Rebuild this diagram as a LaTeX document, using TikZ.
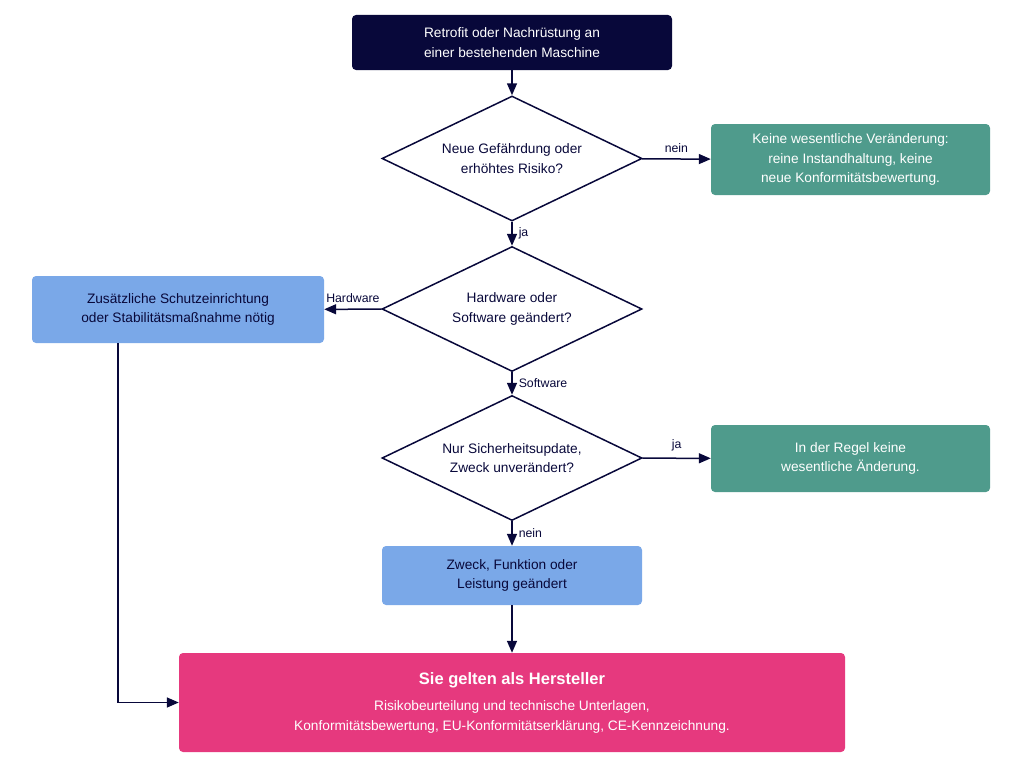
\documentclass[tikz,border=0pt]{standalone}
\usepackage{fontspec}
\setmainfont{Liberation Sans}
\usepackage{tikz}
\usetikzlibrary{positioning, arrows.meta, shapes.geometric, calc}
\usepackage{xcolor}

\definecolor{navy}{RGB}{8,8,58}
\definecolor{tealbox}{RGB}{79,155,140}
\definecolor{bluebox}{RGB}{122,168,232}
\definecolor{pinkbox}{RGB}{230,57,126}

\begin{document}
\begin{tikzpicture}[x=1pt, y=-1pt,
  font=\fontsize{13.7}{19.5}\selectfont,
  box/.style={rounded corners=4pt, align=center, inner sep=0pt},
  startbox/.style={box, fill=navy, text=white, minimum width=320pt, minimum height=55pt},
  greenbox/.style={box, fill=tealbox, text=white, minimum width=279pt},
  bluebox/.style={box, fill=bluebox, text=navy},
  decide/.style={diamond, draw=navy, line width=1.5pt, aspect=2.08, minimum width=260pt, minimum height=125pt, inner sep=0pt, align=center, text=navy},
  flow/.style={-{Triangle[length=12pt,width=10pt]}, draw=navy, line width=1.5pt},
  lbl/.style={text=navy, inner sep=6pt, font=\fontsize{12.3}{14}\selectfont}]
\useasboundingbox (0,0) rectangle (1024,768);
\node[startbox] (start) at (512,42.5) {Retrofit oder Nachrüstung an\\einer bestehenden Maschine};
\node[decide] (risk) at (512,158.5) {Neue Gefährdung oder\\erhöhtes Risiko?};
\node[greenbox, minimum height=71pt] (none) at (850.5,159.5) {Keine wesentliche Veränderung:\\reine Instandhaltung, keine\\neue Konformitätsbewertung.};
\node[decide] (hwsw) at (512,309) {Hardware oder\\Software geändert?};
\node[bluebox, minimum width=292pt, minimum height=67pt] (guard) at (178,309.5) {Zusätzliche Schutzeinrichtung\\oder Stabilitätsmaßnahme nötig};
\node[decide] (upd) at (512,458) {Nur Sicherheitsupdate,\\Zweck unverändert?};
\node[greenbox, minimum height=67pt] (rule) at (850.5,458.5) {In der Regel keine\\wesentliche Änderung.};
\node[bluebox, minimum width=260pt, minimum height=59pt] (purpose) at (512,575.5) {Zweck, Funktion oder\\Leistung geändert};
\node[box, fill=pinkbox, text=white, minimum width=666pt, minimum height=99pt] (maker) at (512,702.5) {{\fontsize{16.5}{19}\selectfont\bfseries Sie gelten als Hersteller}\\[7pt]Risikobeurteilung und technische Unterlagen,\\Konformitätsbewertung, EU-Konformitätserklärung, CE-Kennzeichnung.};
\draw[flow] (start) -- (risk);
\draw[flow] (risk) -- node[lbl, above, inner sep=6pt] {nein} (none);
\draw[flow] (risk) -- node[lbl, right] {ja} (hwsw);
\draw[flow] (hwsw) -- node[lbl, above, inner sep=6pt] {Hardware} (guard);
\draw[flow] (hwsw) -- node[lbl, right] {Software} (upd);
\draw[flow] (upd) -- node[lbl, above, inner sep=6pt] {ja} (rule);
\draw[flow] (upd) -- node[lbl, right] {nein} (purpose);
\draw[flow] (purpose) -- (maker);
\draw[flow] ([xshift=-60pt]guard.south) |- (maker.west);
\end{tikzpicture}
\end{document}
